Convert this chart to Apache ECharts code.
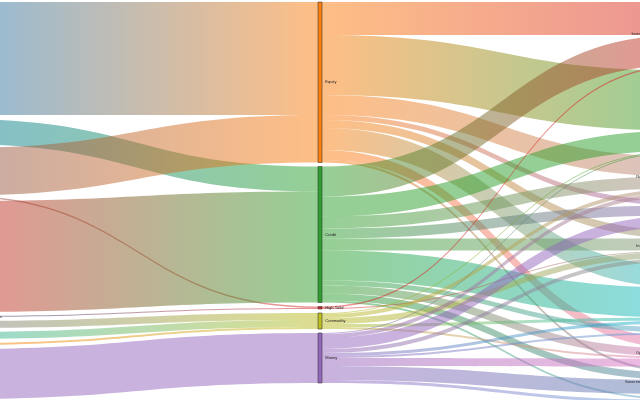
<!DOCTYPE html>
<html>
<head>
<meta charset="utf-8">
<script src="https://cdn.jsdelivr.net/npm/echarts@6/dist/echarts.min.js"></script>
<style>
  html, body { margin: 0; padding: 0; background: #fff; }
  #chart { width: 640px; height: 400px; }
</style>
</head>
<body>
<div id="chart"></div>
<script>
// left column (mostly outside the visible frame)
const REGIONS = ['North America', 'Europe', 'Japan', 'Asia Pacific', 'Emerging Markets Asia', 'Latin America', 'Middle East', 'Africa', 'Global Funds']
const REGION_COLORS = ['#1f77b4', '#0a7f9d', '#8c564b', '#d62728', '#1f3f6f', '#7f7f7f', '#2cb5a0', '#ff7f0e', '#9467bd']

// middle column
const ASSETS = ['Equity', 'Credit', 'High Yield', 'Commodity', 'Money']
const ASSET_COLORS = ['#ff7f0e', '#2ca02c', '#d62728', '#bcbd22', '#9467bd']

// right column (mostly outside the visible frame)
const HOLDERS = ['Investment Funds & ETFs', 'Banks', 'Real Estate Investment', 'Hedge Funds', 'Insurance Corporations', 'Pension Funds', 'Central Banks', 'Operating Corporations', 'Governments and Sovereigns', 'Households']
const HOLDER_COLORS = ['#d62728', '#2ca02c', '#b08a84', '#9467bd', '#8f9a7f', '#17becf', '#5fa8d8', '#e377c2', '#5a7fb0', '#6fa8e0']

// [source, target, value]
const REGION_FLOWS = [
  ['North America', 'Equity', 113],
  ['Europe', 'Credit', 25],
  ['Japan', 'Equity', 47.5],
  ['Japan', 'High Yield', 1.5],
  ['Asia Pacific', 'Credit', 111],
  ['Emerging Markets Asia', 'High Yield', 1],
  ['Latin America', 'Commodity', 7],
  ['Middle East', 'Commodity', 7],
  ['Africa', 'Commodity', 2],
  ['Global Funds', 'Money', 50],
]

const ASSET_FLOWS = [
  ['Equity', 'Investment Funds & ETFs', 33],
  ['Equity', 'Banks', 60],
  ['Equity', 'Real Estate Investment', 20],
  ['Equity', 'Hedge Funds', 5],
  ['Equity', 'Insurance Corporations', 8],
  ['Equity', 'Pension Funds', 22],
  ['Equity', 'Operating Corporations', 10],
  ['Equity', 'Governments and Sovereigns', 2.5],
  ['Credit', 'Investment Funds & ETFs', 30],
  ['Credit', 'Banks', 20],
  ['Credit', 'Real Estate Investment', 12],
  ['Credit', 'Hedge Funds', 10],
  ['Credit', 'Insurance Corporations', 12],
  ['Credit', 'Pension Funds', 30],
  ['Credit', 'Central Banks', 5],
  ['Credit', 'Operating Corporations', 8],
  ['Credit', 'Governments and Sovereigns', 7],
  ['Credit', 'Households', 2],
  ['High Yield', 'Investment Funds & ETFs', 1.5],
  ['High Yield', 'Insurance Corporations', 1],
  ['Commodity', 'Banks', 1],
  ['Commodity', 'Real Estate Investment', 4],
  ['Commodity', 'Insurance Corporations', 6],
  ['Commodity', 'Pension Funds', 3],
  ['Commodity', 'Operating Corporations', 2],
  ['Money', 'Banks', 1],
  ['Money', 'Real Estate Investment', 4],
  ['Money', 'Hedge Funds', 11],
  ['Money', 'Insurance Corporations', 4],
  ['Money', 'Pension Funds', 3],
  ['Money', 'Central Banks', 2],
  ['Money', 'Operating Corporations', 8],
  ['Money', 'Governments and Sovereigns', 14],
  ['Money', 'Households', 3],
]

const chart = echarts.init(document.getElementById('chart'), null, { renderer: 'canvas' })

const toNodes = (names, colors, depth) => names.map((name, i) => ({
  name,
  depth,
  itemStyle: { color: colors[i] },
}))

const nodes = [
  ...toNodes(REGIONS, REGION_COLORS, 0),
  ...toNodes(ASSETS, ASSET_COLORS, 1),
  ...toNodes(HOLDERS, HOLDER_COLORS, 2),
]

const links = [...REGION_FLOWS, ...ASSET_FLOWS].map(([source, target, value]) => ({ source, target, value }))

chart.setOption({
  animation: false,
  series: [{
    type: 'sankey',
    left: -47,
    right: -47,
    top: 2,
    bottom: -3,
    nodeWidth: 4,
    nodeGap: 4,
    // keep the node order as listed above
    layoutIterations: 0,
    draggable: false,
    emphasis: { disabled: true },
    data: nodes,
    links,
    itemStyle: { borderColor: '#3a3a3a', borderWidth: 0.6 },
    lineStyle: { color: 'gradient', opacity: 0.5, curveness: 0.5 },
    label: {
      position: 'right',
      distance: 3,
      fontSize: 4,
      fontFamily: 'Liberation Sans',
      color: '#222',
    },
    levels: [
      { depth: 2, label: { position: 'left', distance: 5 } },
    ],
  }],
})
</script>
</body>
</html>
